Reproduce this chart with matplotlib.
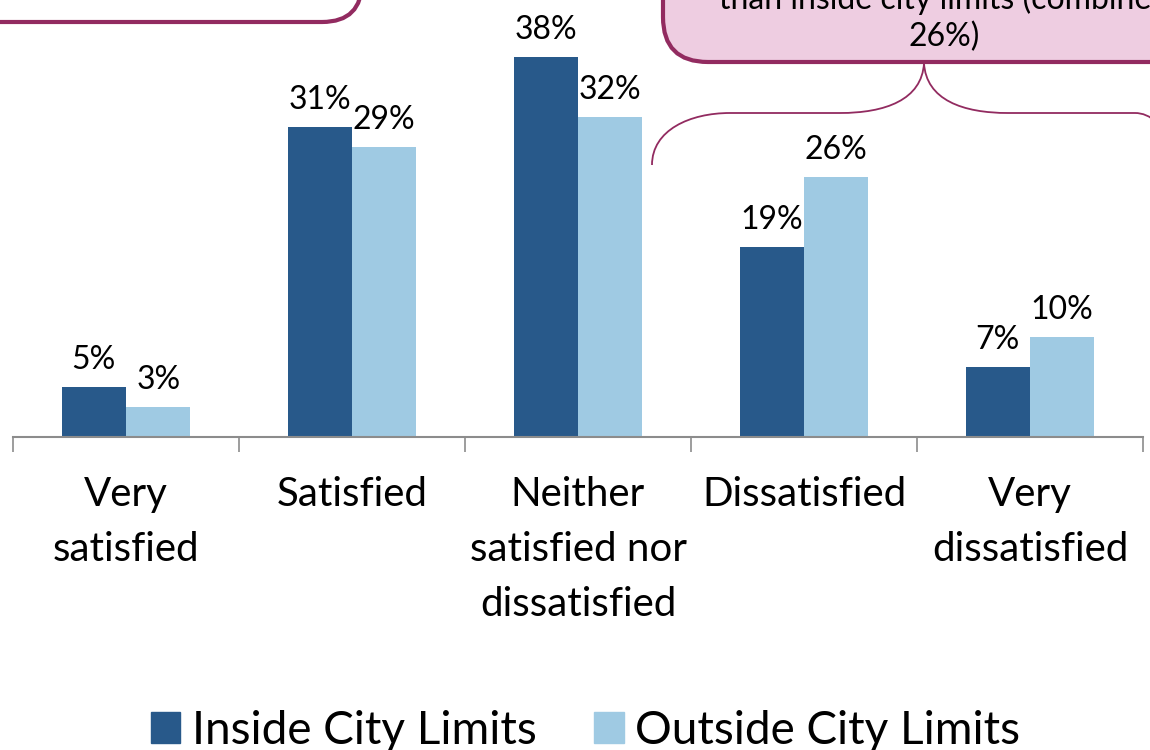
import matplotlib.pyplot as plt
import numpy as np
from matplotlib.patches import FancyBboxPatch, Patch, PathPatch
from matplotlib.path import Path

plt.rcParams['font.family'] = ['Lato', 'DejaVu Sans']

categories = ["Very\nsatisfied", "Satisfied", "Neither\nsatisfied nor\ndissatisfied",
              "Dissatisfied", "Very\ndissatisfied"]
inside = [5, 31, 38, 19, 7]
outside = [3, 29, 32, 26, 10]
series_names = ["Inside City Limits", "Outside City Limits"]
callout_lines = ["than inside city limits (combined", "26%)"]

DARK = "#28598a"
LIGHT = "#9fcae3"
PURPLE = "#922b60"
PINK = "#eecde1"

W, H = 1150, 750
fig = plt.figure(figsize=(W / 100, H / 100), dpi=100)

ax = fig.add_axes([13 / W, (H - 437) / H, 1130 / W, 400 / H])
ax.patch.set_visible(False)
x = np.arange(len(categories))
bw = 0.285
b1 = ax.bar(x - bw / 2, inside, bw, color=DARK, label=series_names[0])
b2 = ax.bar(x + bw / 2, outside, bw, color=LIGHT, label=series_names[1])
for bars in (b1, b2):
    for rect in bars:
        h = rect.get_height()
        ax.text(rect.get_x() + rect.get_width() / 2, h + 1.2, f"{h:g}%",
                ha="center", va="bottom", fontsize=23)

ax.set_xlim(-0.5, len(categories) - 0.5)
ax.set_ylim(0, 40)
for s in ["top", "right", "left"]:
    ax.spines[s].set_visible(False)
ax.spines["bottom"].set_color("#8c8c8c")
ax.spines["bottom"].set_linewidth(1.5)
ax.set_yticks([])
ax.set_xticks(x)
ax.set_xticklabels(categories, fontsize=29, linespacing=1.6)
ax.tick_params(axis="x", which="major", length=0, pad=28)
ax.set_xticks(np.arange(len(categories) + 1) - 0.5, minor=True)
ax.tick_params(axis="x", which="minor", length=11, width=1.2, color="#8c8c8c")

# overlay in pixel coordinates for the callouts and brace
ov = fig.add_axes([0, 0, 1, 1])
ov.set_xlim(0, W)
ov.set_ylim(H, 0)
ov.axis("off")
ov.set_zorder(3)

# left callout (cropped)
ov.add_patch(FancyBboxPatch((-200, -200), 562, 222,
                            boxstyle="round,pad=0,rounding_size=40",
                            fc="white", ec=PURPLE, lw=3))
# right callout (cropped)
ov.add_patch(FancyBboxPatch((663, -200), 700, 262,
                            boxstyle="round,pad=0,rounding_size=45",
                            fc=PINK, ec=PURPLE, lw=3))
ov.text(944, 9, callout_lines[0], ha="center", va="baseline", fontsize=23)
ov.text(944, 46, callout_lines[1], ha="center", va="baseline", fontsize=23)

# brace
verts = [(652, 165), (652, 130), (690, 113), (730, 113),
         (840, 113),
         (885, 113), (922, 100), (924, 63),
         (926, 100), (963, 113), (1008, 113),
         (1135, 113),
         (1150, 113), (1165, 125), (1170, 150)]
codes = [Path.MOVETO, Path.CURVE4, Path.CURVE4, Path.CURVE4,
         Path.LINETO,
         Path.CURVE4, Path.CURVE4, Path.CURVE4,
         Path.CURVE4, Path.CURVE4, Path.CURVE4,
         Path.LINETO,
         Path.CURVE4, Path.CURVE4, Path.CURVE4]
ov.add_patch(PathPatch(Path(verts, codes), fc="none", ec=PURPLE, lw=1.3))

handles = [Patch(color=DARK), Patch(color=LIGHT)]
fig.legend(handles, series_names, loc="lower center", bbox_to_anchor=(0.509, -0.057),
           ncol=2, frameon=False, fontsize=33, handlelength=0.65, handleheight=0.65,
           handletextpad=0.25, columnspacing=1.25)

fig.savefig("out.png", dpi=100)
